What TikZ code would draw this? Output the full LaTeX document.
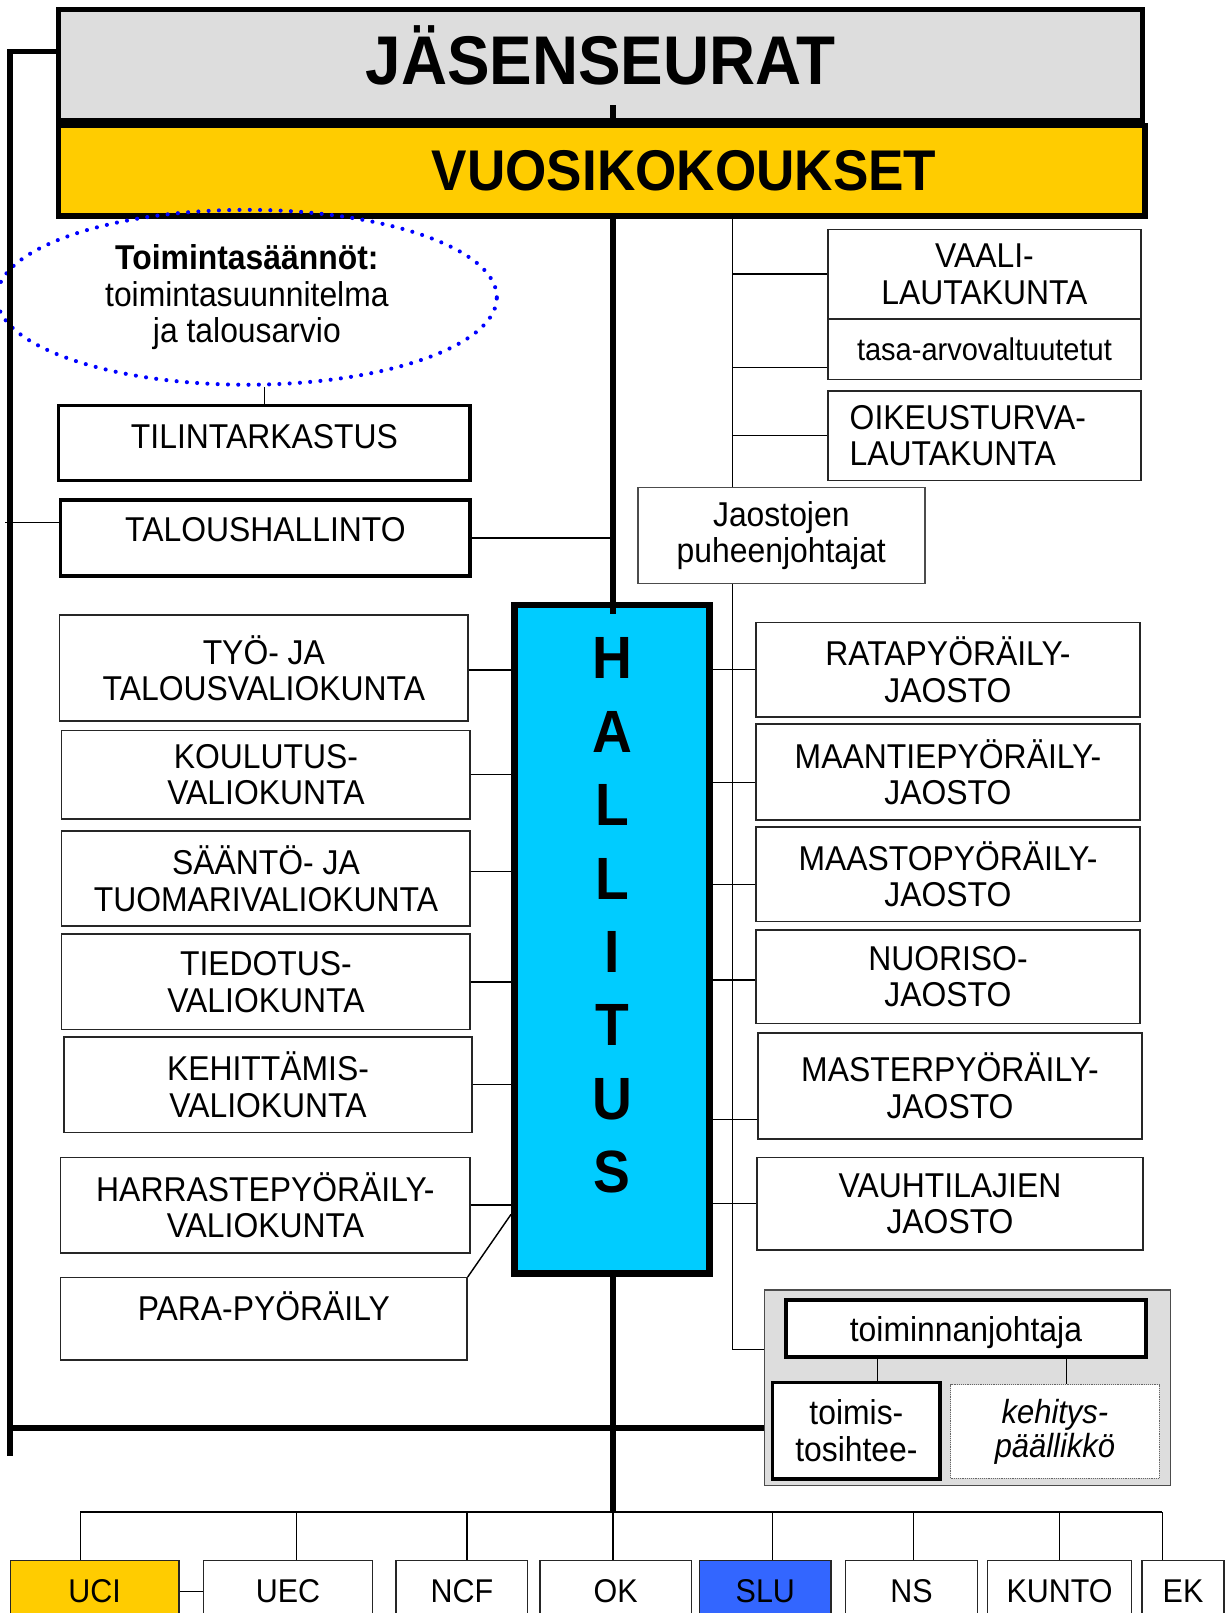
\documentclass[tikz,border=0pt]{standalone}
\usepackage{fontspec}
\setmainfont{Liberation Sans}[FakeStretch=0.925]
\usepackage{tikz}
\usetikzlibrary{shapes}
\usetikzlibrary{positioning}
\usetikzlibrary{calc}

\definecolor{sgray}{HTML}{DDDDDD}
\definecolor{syellow}{HTML}{FFCC00}
\definecolor{scyan}{HTML}{00CCFF}
\definecolor{sblue}{HTML}{3366FF}

\begin{document}
\begin{tikzpicture}[x=1pt, y=-1pt,
    every node/.style={font=\fontsize{33.5}{35.5}\selectfont, align=center, inner sep=0pt},
    dims/.style 2 args={minimum width=#1pt, minimum height=#2pt},
    unit box/.style={draw=black!85, line width=1.4pt, fill=white},
    key box/.style={draw, line width=3.5pt, fill=white},
    main box/.style={draw, line width=5pt},
    link/.style={line width=1.4pt},
    row line/.style={line width=2.5pt},
    trunk/.style={line width=6pt},
    frame/.style={line width=5.5pt},
    big/.style={font=\fontsize{67}{67}\selectfont\bfseries}]

  \useasboundingbox (0,0) rectangle (1192,1568);
  \clip (0,0) rectangle (1192,1568);
  \fill[white] (0,0) rectangle (1192,1568);

  % top
  \node[main box, fill=sgray, dims={1054}{108},
        label={[yshift=9pt, big]center:JÄSENSEURAT}] (jas) at (584,63) {};
  \node[main box, fill=syellow, dims={1056}{88},
        label={[xshift=80pt, font=\fontsize{55.8}{56}\selectfont\bfseries]center:VUOSIKOKOUKSET}] (vuosi) at (585,166) {};

  % left side
  \node[ellipse, draw=blue, line width=4pt, dash pattern=on 0pt off 10pt, line cap=round,
        dims={486}{170}] (ohje) at (240,289)
        {\textbf{Toimintasäännöt:}\\toimintasuunnitelma\\ja talousarvio};
  \node[key box, dims={400}{73}, label={[yshift=6pt]center:TILINTARKASTUS}] (tilin) at (257,430.5) {};
  \node[key box, dims={398}{74}, label={[yshift=8pt]center:TALOUSHALLINTO}] (talous) at (258,523) {};

  \node[unit box, dims={397}{103}] (tyo) at (256.5,649.5) {TYÖ- JA\\TALOUSVALIOKUNTA};
  \node[unit box, dims={397}{86}] (koul) at (258.5,753) {KOULUTUS-\\VALIOKUNTA};
  \node[unit box, dims={397}{92}] (saanto) at (258.5,854) {SÄÄNTÖ- JA\\TUOMARIVALIOKUNTA};
  \node[unit box, dims={397}{93}] (tied) at (258.5,954.5) {TIEDOTUS-\\VALIOKUNTA};
  \node[unit box, dims={397}{93}] (kehit) at (260.5,1054.5) {KEHITTÄMIS-\\VALIOKUNTA};
  \node[unit box, dims={398}{93}] (harr) at (258,1171.5) {HARRASTEPYÖRÄILY-\\VALIOKUNTA};
  \node[unit box, dims={395}{80}, label={[yshift=12pt]center:PARA-PYÖRÄILY}] (para) at (256.5,1282) {};

  % hallitus
  \node[main box, line width=6.5pt, fill=scyan, dims={190}{650},
        label={[yshift=23pt, font=\fontsize{58}{71.4}\selectfont\bfseries]center:H\\A\\L\\L\\I\\T\\U\\S}] (hall) at (595,913) {};

  % right side
  \node[unit box, dims={304}{87}] (vaali) at (957,266.5) {VAALI-\\LAUTAKUNTA};
  \node[unit box, dims={304}{59}, font=\fontsize{30.5}{32}\selectfont] (tasa) at (957,339.5) {tasa-arvovaltuutetut};
  \node[unit box, dims={304}{87}, align=left, text width=262pt, inner xsep=21pt] (oikeus) at (957,423.5) {OIKEUSTURVA-\\LAUTAKUNTA};
  \node[unit box, draw=black!70, dims={279}{93}] (jaost) at (759.5,520.5) {Jaostojen\\puheenjohtajat};

  \node[unit box, dims={373}{92}] (rata) at (921.5,651) {RATAPYÖRÄILY-\\JAOSTO};
  \node[unit box, dims={373}{93}] (maant) at (921.5,750.5) {MAANTIEPYÖRÄILY-\\JAOSTO};
  \node[unit box, dims={373}{92}] (maasto) at (921.5,850) {MAASTOPYÖRÄILY-\\JAOSTO};
  \node[unit box, dims={373}{91}] (nuor) at (921.5,949.5) {NUORISO-\\JAOSTO};
  \node[unit box, dims={373}{103}] (master) at (923.5,1055.5) {MASTERPYÖRÄILY-\\JAOSTO};
  \node[unit box, dims={375}{90}] (vauhti) at (923.5,1170) {VAUHTILAJIEN\\JAOSTO};

  % office
  \node[draw=black!70, line width=1.5pt, fill=sgray, dims={395}{190}] (office) at (940.5,1349) {};
  \node[key box, dims={350}{55}, text depth=0pt] (tj) at (939,1291.5) {toiminnanjohtaja};
  \node[key box, dims={163}{94}] (siht) at (832.5,1391) {toimis-\\tosihtee-};
  \node[draw=black!60, densely dotted, line width=0.8pt, fill=white, dims={203}{91},
        font=\fontsize{32.5}{33}\selectfont\itshape] (kpaal) at (1025.5,1391.5) {kehitys-\\päällikkö};

  % members
  \foreach \n/\t/\x/\w/\c in {uci/UCI/92/164/syellow, uec/UEC/280/164/white, ncf/NCF/449/128/white,
                              ok/OK/598.5/147/white, slu/SLU/744/128/sblue, ns/NS/886/128/white,
                              kunto/KUNTO/1030/140/white, ek/EK/1150/80/white}
    \node[unit box, fill=\c, dims={\w}{60}, font=\fontsize{32}{35}\selectfont] (\n) at (\x,1547) {\t};

  % lines
  \coordinate (mx) at (596,0);
  \coordinate (sp) at (712,0);
  \coordinate (bar) at (0,1470);
  \coordinate (fb) at (10,1415);
  \coordinate (fl) at (8,1388);
  \coordinate (tl) at (5,508);

  \draw[frame] ([yshift=13pt]jas.west) -| (fb);
  \draw[frame] (fl) -- (fl -| office.west);

  \draw[trunk] ([yshift=17pt]jas.south -| mx) -- (vuosi.north -| mx);
  \draw[trunk] (vuosi.south -| mx) -- ([yshift=-12pt]hall.north -| mx);
  \draw[trunk] (hall.south -| mx) -- (bar -| mx);

  \draw[link] (tilin.north) -- (tilin.north |- ohje.south);
  \draw[link] (tl) -- (tl -| talous.west);
  \draw[link] (talous.east) -- (talous.east -| mx);

  \foreach \b/\s in {tyo/-2, koul/0, saanto/7, tied/0, kehit/0, harr/0}
    \draw[link] ([yshift=\s pt]\b.east) -- ([yshift=\s pt]\b.east -| hall.west);
  \draw[link] (para.north east) -- ([yshift=-9pt]harr.east -| hall.west);

  \foreach \b/\s in {rata/0, maant/-10, maasto/-10, nuor/-3, master/-33, vauhti/0}
    \draw[link] ([yshift=\s pt]\b.west) -- ([yshift=\s pt]\b.west -| hall.east);

  \draw[link] (vuosi.south -| sp) -- (jaost.north -| sp);
  \draw[link] (vaali.west -| sp) -- (vaali.west);
  \draw[link] ([yshift=-18pt]tasa.west -| sp) -- ([yshift=-18pt]tasa.west);
  \draw[link] (oikeus.west -| sp) -- (oikeus.west);
  \draw[link] (jaost.south -| sp) |- ([yshift=37pt]office.west);

  \draw[link] ([xshift=-86pt]tj.south) -- ([xshift=-86pt]tj.south |- siht.north);
  \draw[link] ([xshift=98pt]tj.south) -- ([xshift=98pt]tj.south |- kpaal.north);

  \draw[row line] ([xshift=-14pt]uci.north |- bar) -- ([xshift=-20pt]ek.north |- bar);
  \foreach \n/\s in {uci/-14, uec/8, ncf/5, ok/-2.5, slu/7, ns/2, kunto/0, ek/-20}
    \draw[link] ([xshift=\s pt]\n.north |- bar) -- ([xshift=\s pt]\n.north);
  \draw[link] (uci.east) -- (uec.west);

\end{tikzpicture}
\end{document}
